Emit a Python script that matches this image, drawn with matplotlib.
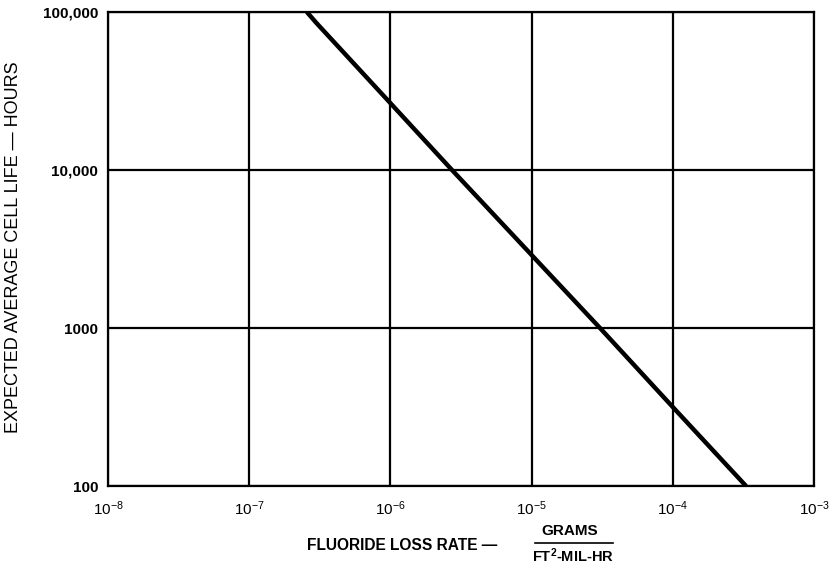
import matplotlib.pyplot as plt
from matplotlib.ticker import FixedLocator, FixedFormatter

plt.rcParams['font.family'] = ['Liberation Sans', 'DejaVu Sans']
plt.rcParams['mathtext.fontset'] = 'custom'
plt.rcParams['mathtext.rm'] = 'Liberation Sans'
plt.rcParams['mathtext.it'] = 'Liberation Sans'

# curve (log-log straight line)
loss_rate = [2.56e-7, 3.0e-7, 1.0e-6, 2.73e-6, 3.05e-5, 1.0e-4, 3.3e-4]
cell_life = [100000, 85000, 26500, 10000, 1000, 316, 100]

x_ticks = [1e-8, 1e-7, 1e-6, 1e-5, 1e-4, 1e-3]
x_labels = [r'$\mathregular{10^{-8}}$', r'$\mathregular{10^{-7}}$', r'$\mathregular{10^{-6}}$',
            r'$\mathregular{10^{-5}}$', r'$\mathregular{10^{-4}}$', r'$\mathregular{10^{-3}}$']
y_ticks = [100, 1000, 10000, 100000]
y_labels = ['100', '1000', '10,000', '100,000']

fig = plt.figure(figsize=(8.3, 5.68), dpi=100)
ax = fig.add_axes([108 / 830, 1 - 486 / 568, (814 - 108) / 830, (486 - 12) / 568])

ax.plot(loss_rate, cell_life, color='black', linewidth=3.2, solid_capstyle='butt', zorder=3)

ax.set_xscale('log')
ax.set_yscale('log')
ax.set_xlim(1e-8, 1e-3)
ax.set_ylim(100, 100000)

ax.xaxis.set_major_locator(FixedLocator(x_ticks))
ax.xaxis.set_major_formatter(FixedFormatter(x_labels))
ax.xaxis.set_minor_locator(FixedLocator([]))
ax.yaxis.set_major_locator(FixedLocator(y_ticks))
ax.yaxis.set_major_formatter(FixedFormatter(y_labels))
ax.yaxis.set_minor_locator(FixedLocator([]))

ax.tick_params(length=0, colors='black')
ax.tick_params(axis='x', pad=10, labelsize=11)
ax.tick_params(axis='y', pad=7, labelsize=11)
for lab in ax.get_yticklabels():
    lab.set_fontweight('bold')

ax.grid(True, which='major', color='black', linewidth=1.6)
for s in ax.spines.values():
    s.set_linewidth(1.6)

# y axis title
fig.text(14 / 830, 1 - 247 / 568, 'EXPECTED AVERAGE CELL LIFE \u2014 HOURS',
         rotation=90, ha='center', va='center', fontsize=13)

# x axis title with fraction
fig.text(497 / 830, 1 - 545 / 568, 'FLUORIDE LOSS RATE \u2014', ha='right', va='center',
         fontsize=11.2, fontweight='bold')
fig.text(570 / 830, 1 - 531 / 568, 'GRAMS', ha='center', va='center',
         fontsize=11, fontweight='bold')
fig.add_artist(plt.Line2D([535 / 830, 613 / 830], [1 - 543 / 568, 1 - 543 / 568],
                          color='black', linewidth=1.2))
fig.text(573 / 830, 1 - 556 / 568, r'FT$\mathregular{^2}$-MIL-HR', ha='center', va='center',
         fontsize=10.5, fontweight='bold')

fig.savefig('out.png', dpi=100)
